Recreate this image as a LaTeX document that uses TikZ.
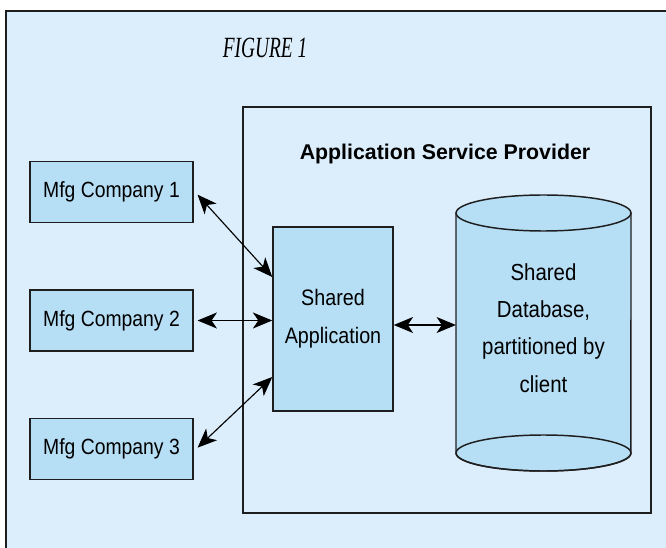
\documentclass[tikz,border=0pt]{standalone}
\usepackage{fontspec}
\usepackage{tikz}
\usetikzlibrary{positioning,arrows.meta,calc}
\newfontfamily\boxfont[FakeStretch=0.88]{Liberation Sans}
\newfontfamily\headfont{Liberation Sans}
\newfontfamily\capfont[FakeStretch=0.66]{Liberation Serif}
\definecolor{aspBack}{RGB}{220,238,252}
\definecolor{aspFill}{RGB}{182,222,245}
\definecolor{aspLine}{RGB}{30,30,30}
\tikzset{
    base/.style={align=center, text=black},
    company/.style={base, rectangle, draw=aspLine, line width=1.1pt, fill=aspFill,
                    minimum width=122pt, minimum height=46pt,
                    font=\boxfont\fontsize{16.5}{20}\selectfont},
    appbox/.style={base, rectangle, draw=aspLine, line width=1.1pt, fill=aspFill,
                   minimum width=90pt, minimum height=138pt,
                   font=\boxfont\fontsize{16.8}{28.5}\selectfont},
    dbtext/.style={base, rectangle, minimum width=131pt, minimum height=180pt,
                   inner sep=0pt, font=\boxfont\fontsize{17.4}{28}\selectfont},
    link/.style={{Stealth[length=14.5pt,width=12pt,inset=4pt]}-{Stealth[length=14.5pt,width=12pt,inset=4pt]},
                 line width=0.85pt, color=black}
}

\begin{document}
\begin{tikzpicture}[x=0.75pt, y=-0.75pt]
  \useasboundingbox (0,0) rectangle (666,548);
  % frame
  \fill[aspBack] (6,11) rectangle (666,548);
  \draw[aspLine, line width=1.5pt] (6,548) -- (6,11) -- (666,11);
  \node[font=\capfont\itshape\fontsize{22}{24}\selectfont] (fig) at (265,48) {FIGURE 1};

  % provider box
  \node[draw=aspLine, line width=1.3pt, minimum width=306pt, minimum height=304.5pt, inner sep=0pt] (asp) at (447,310) {};
  \node[font=\headfont\bfseries\fontsize{16}{20}\selectfont] (asptitle) at (445,154) {Application Service Provider};

  \node[company] (m1) at (111.5,192) {Mfg Company 1};
  \node[company] (m2) at (111.5,320.5) {Mfg Company 2};
  \node[company] (m3) at (111.5,449) {Mfg Company 3};

  \node[appbox] (sa) at (333,319) {Shared\\Application};

  % database cylinder
  \fill[aspFill, draw=aspLine, line width=1.1pt] (456,213) -- (456,453)
      arc[start angle=180, end angle=360, x radius=65.6pt, y radius=13.5pt] -- (631,213) -- cycle;
  \draw[aspLine, line width=1.1pt, fill=aspFill] (543.5,213) ellipse[x radius=65.6pt, y radius=13.5pt];
  \draw[aspLine, line width=1.1pt] (543.5,453) ellipse[x radius=65.6pt, y radius=13.5pt];
  \node[dbtext] (db) at (543.5,328) {Shared\\Database,\\partitioned by\\client};

  \draw[link] ([xshift=3pt,yshift=-2pt]m1.east) -- ([yshift=31.5pt]sa.west);
  \draw[link] ([xshift=3pt]m2.east) -- (m2.east -| sa.west);
  \draw[link] ([xshift=3pt,yshift=1pt]m3.east) -- ([yshift=-43.5pt]sa.west);
  \draw[link] ([yshift=-4.5pt]sa.east) -- ([yshift=-4.5pt]sa.east -| db.west);
\end{tikzpicture}
\end{document}
